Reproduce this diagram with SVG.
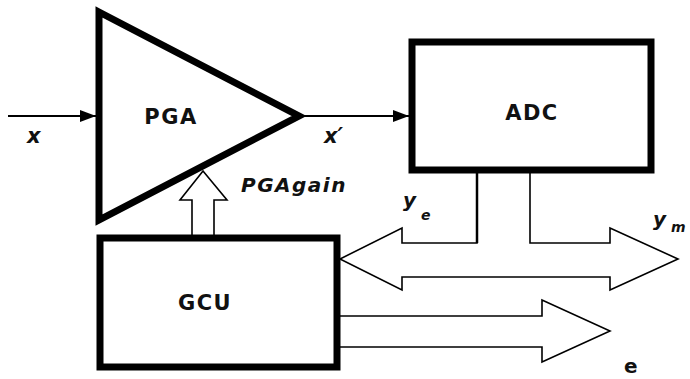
<svg xmlns="http://www.w3.org/2000/svg" width="690" height="379" viewBox="0 0 690 379">
<defs>
<marker id="ah" markerWidth="16" markerHeight="12" refX="16" refY="6" orient="auto" markerUnits="userSpaceOnUse">
<path d="M0,0 L16,6 L0,12 Z" fill="#000"/>
</marker>
<style>
.blk{fill:#fff;stroke:#000;stroke-width:7;stroke-linejoin:miter}
.ln{fill:none;stroke:#000;stroke-width:2}
.bus{fill:#fff;stroke:#000;stroke-width:1.6;stroke-linejoin:miter}
.lbl{font-family:"DejaVu Sans",sans-serif;font-weight:bold;font-size:21px;letter-spacing:1.5px;fill:#111}
.it{font-family:"DejaVu Sans",sans-serif;font-weight:bold;font-style:italic;fill:#111}
</style>
</defs>
<rect width="690" height="379" fill="#fff"/>
<g id="connectors">
<line class="ln" x1="8" y1="116" x2="96" y2="116" marker-end="url(#ah)"/>
<line class="ln" x1="300" y1="116" x2="409" y2="116" marker-end="url(#ah)"/>
<path class="bus" d="M477,173 V243 H402 V228 L340,259 L402,290 V277 H610 V290 L678,259 L610,228 V243 H530 V173"/>
<path class="bus" d="M340,316 H542 V300 L610,331 L542,362 V347 H340"/>
<path class="bus" d="M192,235 V200 H180 L203,171 L227,200 H214 V235"/>
<line x1="477" y1="173" x2="477" y2="243" stroke="#000" stroke-width="2.5"/>
</g>
<g id="pga">
<polygon class="blk" points="99,12 299,116 99,220"/>
<text class="lbl" x="171" y="124" text-anchor="middle">PGA</text>
</g>
<g id="adc">
<rect class="blk" x="412" y="42" width="239" height="128"/>
<text class="lbl" x="532" y="120" text-anchor="middle">ADC</text>
</g>
<g id="gcu">
<rect class="blk" x="100" y="238" width="237" height="129"/>
<text class="lbl" x="205" y="310" text-anchor="middle">GCU</text>
</g>
<g id="labels">
<text class="it" x="27" y="143" font-size="21">x</text>
<text class="it" x="324" y="143" font-size="21">x′</text>
<text class="it" x="241" y="192" font-size="20" letter-spacing="1.5">PGAgain</text>
<text class="it" x="403" y="207" font-size="20">y</text>
<text class="it" x="421" y="220" font-size="14">e</text>
<text class="it" x="653" y="226" font-size="20">y</text>
<text class="it" x="671" y="232" font-size="14">m</text>
<text x="624" y="373" font-family="DejaVu Sans,sans-serif" font-weight="bold" font-size="20" fill="#111">e</text>
</g>
</svg>
